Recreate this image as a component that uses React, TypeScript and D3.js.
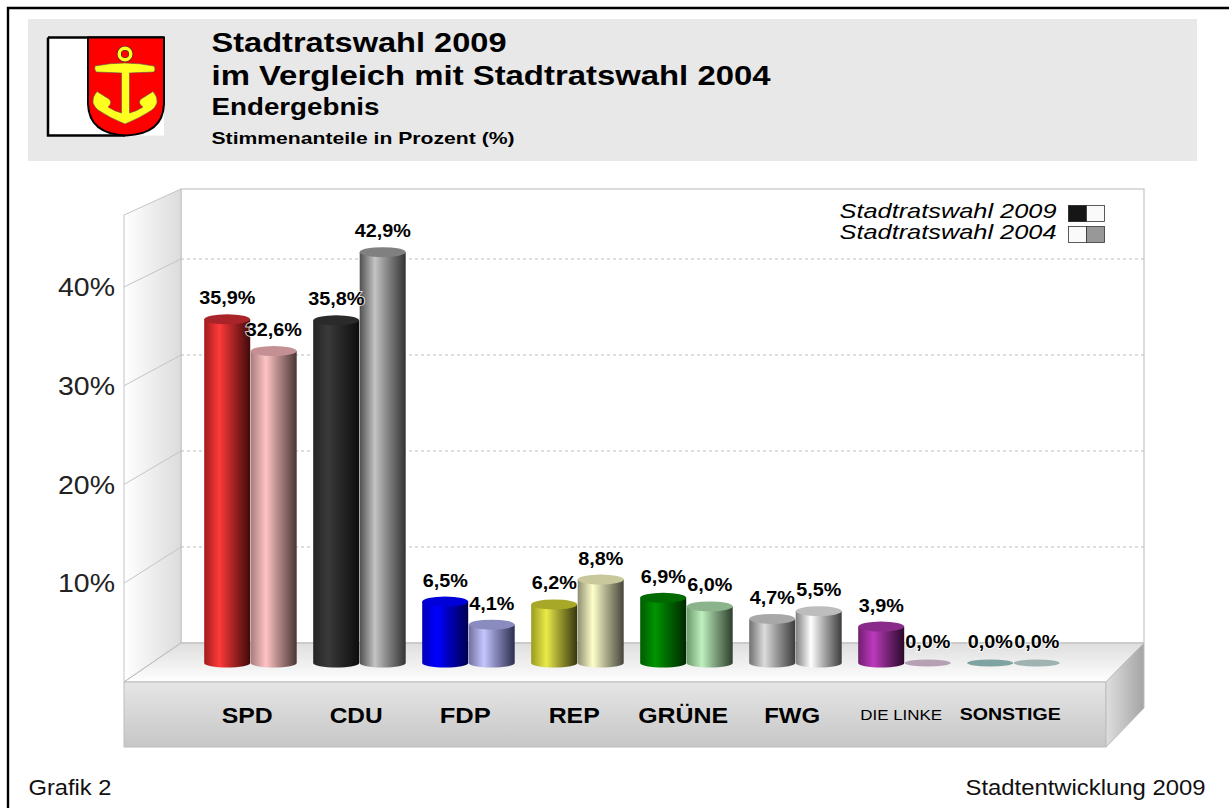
import React from "react";
import * as d3 from "d3";

const parties = ["SPD", "CDU", "FDP", "REP", "GRÜNE", "FWG", "DIE LINKE", "SONSTIGE"];
const votes2009 = [35.9, 35.8, 6.5, 6.2, 6.9, 4.7, 3.9, 0.0];
const votes2004 = [32.6, 42.9, 4.1, 8.8, 6.0, 5.5, 0.0, 0.0];
const yTicks = [10, 20, 30, 40];
const labelWidths = [51, 53, 51, 51, 90, 56, 82, 101];
const labelSizes = [22, 22, 22, 22, 22, 22, 15, 16.5];
const labelWeights = [700, 700, 700, 700, 700, 700, 400, 700];
// [edge, highlight, shadow, cap]
const colors2009 = [
  ["#a01c1c", "#ff3a3a", "#3f0a0a", "#a82428"],
  ["#242424", "#3a3a3a", "#0d0d0d", "#2a2a2a"],
  ["#0000b8", "#0000ff", "#000050", "#0000d8"],
  ["#9a9a20", "#eaea4a", "#36360f", "#a8a828"],
  ["#005c00", "#009400", "#002800", "#006a00"],
  ["#707070", "#dcdcdc", "#3c3c3c", "#a8a8a8"],
  ["#701f70", "#bc3abc", "#2a0a2a", "#8a2a8a"],
  ["#7fa3a0", "#7fa3a0", "#7fa3a0", "#7fa3a0"],
];
const colors2004 = [
  ["#a87c7c", "#ffc4c4", "#4a3535", "#c49094"],
  ["#505050", "#c4c4c4", "#333333", "#808080"],
  ["#6f70a0", "#c4c6ff", "#2d2d50", "#8a8cc0"],
  ["#8f8f70", "#ffffcc", "#45453a", "#c8c89c"],
  ["#6a9a6a", "#bff0bf", "#2d402d", "#8cb48c"],
  ["#808080", "#ffffff", "#3c3c3c", "#bdbdbd"],
  ["#b8a0b4", "#b8a0b4", "#b8a0b4", "#b8a0b4"],
  ["#9fb3b0", "#9fb3b0", "#9fb3b0", "#9fb3b0"],
];

const W = 1229;
const H = 808;
const font = "'Liberation Sans', Arial, sans-serif";
const backL = 181, backR = 1144, backT = 189, backB = 643;
const frontL = 124, frontR = 1106, frontT = 682, frontB = 747;
const baseY = 664;
const ry = 4.5;
const barW = 46;

const y = d3.scaleLinear().domain([0, 40]).range([backB, 259]);
const x0 = d3.scaleBand<string>().domain(parties).range([195, 195 + 109 * 8]).paddingInner(0);
const barX = (i: number, s: number) => (x0(parties[i]) as number) + 9.2 + s * 46.5;
const wallDrop = d3.scaleLinear().domain([backT, backB]).range([26, 39]);
const fmt = (v: number) => v.toFixed(1).replace(".", ",") + "%";

function Cylinder({ x, v, gid, cols }: { x: number; v: number; gid: string; cols: string[] }) {
  const h = 643 - y(v);
  const top = baseY - h;
  if (v === 0) {
    return <ellipse cx={x + barW / 2} cy={baseY - 1} rx={barW / 2} ry={3.5} fill={cols[3]} />;
  }
  const rx = barW / 2;
  const d = `M${x},${top}V${baseY - 1}A${rx},${ry} 0 0 0 ${x + barW},${baseY - 1}V${top}Z`;
  return (
    <g>
      <path d={d} fill={`url(#${gid})`} />
      <ellipse cx={x + rx} cy={top} rx={rx} ry={ry + 0.5} fill={cols[3]} />
    </g>
  );
}

function Grad({ id, c }: { id: string; c: string[] }) {
  return (
    <linearGradient id={id} x1="0" x2="1" y1="0" y2="0">
      <stop offset="0" stopColor={c[0]} />
      <stop offset="0.33" stopColor={c[1]} />
      <stop offset="0.55" stopColor={d3.interpolateRgb(c[1], c[2])(0.35)} />
      <stop offset="1" stopColor={c[2]} />
    </linearGradient>
  );
}

function ValueLabel({ v, center }: { v: number; center: number }) {
  const h = 643 - y(v);
  const top = v === 0 ? baseY - 1 : baseY - h;
  return (
    <text
      transform={`translate(${center},${top - 15}) scale(1.1,1)`}
      textAnchor="middle"
      fontFamily={font}
      fontWeight={700}
      fontSize={18}
      fill="#000"
      stroke="#fff"
      strokeWidth={2}
      strokeOpacity={0.75}
      paintOrder="stroke"
    >
      {fmt(v)}
    </text>
  );
}

function Emblem() {
  return (
    <g>
      <rect x={48} y={37.5} width={116} height={98} fill="#fff" />
      <path d="M48,37.5H164M48,37.5V135.5H125" fill="none" stroke="#000" strokeWidth={2.5} />
      <path d="M88,37.5H164V104Q163,134 126,135.5Q89,134 88,104Z" fill="#ff0000" stroke="#000" strokeWidth={2} />
      <circle cx={125} cy={54} r={5.8} fill="none" stroke="#333" strokeWidth={4.6} />
      <circle cx={125} cy={54} r={5.8} fill="none" stroke="#ffff20" strokeWidth={3.4} />
      <path
        d="M95,66Q125,60 154,66Q156,69 154,72Q140,72.5 129.5,73V113Q137,111 143,107Q137,103 141,99Q146,96 153,91.5Q158,97 157,103Q155,108 152,110Q140,118 125,124Q110,118 98,110Q95,108 93,103Q92,97 97,91.5Q104,96 109,99Q113,103 108,107Q114,111 121.5,113V73Q110,72.5 96,72Q94,69 95,66Z"
        fill="#ffff20"
        stroke="#555"
        strokeWidth={0.6}
      />
    </g>
  );
}

export default function App() {
  const lines = [
    { t: "Stadtratswahl 2009", by: 52, fs: 27, w: 295 },
    { t: "im Vergleich mit Stadtratswahl 2004", by: 85, fs: 27, w: 559 },
    { t: "Endergebnis", by: 115, fs: 23, w: 168 },
    { t: "Stimmenanteile in Prozent (%)", by: 144, fs: 17, w: 303 },
  ];
  const floorPts = `${backL},${backB} ${backR},${backB} ${frontR},${frontT} ${frontL},${frontT}`;
  return (
    <svg width={W} height={H} viewBox={`0 0 ${W} ${H}`} style={{ position: "absolute", left: 0, top: 0, background: "#fff" }}>
      <defs>
        <linearGradient id="wall" x1="0" x2="1" y1="0" y2="0">
          <stop offset="0" stopColor="#ffffff" />
          <stop offset="1" stopColor="#dcdcdc" />
        </linearGradient>
        <linearGradient id="floor" x1="0" x2="0" y1="0" y2="1">
          <stop offset="0" stopColor="#dedede" />
          <stop offset="1" stopColor="#ffffff" />
        </linearGradient>
        <linearGradient id="front" x1="0" x2="0" y1="0" y2="1">
          <stop offset="0" stopColor="#e6e6e6" />
          <stop offset="1" stopColor="#c6c6c6" />
        </linearGradient>
        <linearGradient id="side" x1="0" x2="1" y1="0" y2="0">
          <stop offset="0" stopColor="#dedede" />
          <stop offset="1" stopColor="#a4a4a4" />
        </linearGradient>
        {parties.map((_, i) => <Grad key={i} id={`a${i}`} c={colors2009[i]} />)}
        {parties.map((_, i) => <Grad key={i} id={`b${i}`} c={colors2004[i]} />)}
      </defs>

      <path d={`M8,${H}V8H${W}`} fill="none" stroke="#000" strokeWidth={2.4} />

      <rect x={28} y={19} width={1169} height={142} fill="#e8e8e8" />
      <Emblem />
      {lines.map((l) => (
        <text key={l.t} x={211.5} y={l.by} fontFamily={font} fontWeight={700} fontSize={l.fs} textLength={l.w} lengthAdjust="spacingAndGlyphs" fill="#000">
          {l.t}
        </text>
      ))}

      {/* 3D box */}
      <rect x={backL} y={backT} width={backR - backL} height={backB - backT} fill="#fff" stroke="#c4c4c4" strokeWidth={1.2} />
      <polygon points={`${frontL},${backT + 26} ${backL},${backT} ${backL},${backB} ${frontL},${frontT}`} fill="url(#wall)" stroke="#c4c4c4" strokeWidth={1} />
      {yTicks.map((t) => {
        const py = y(t);
        return (
          <g key={t}>
            <line x1={backL} x2={backR} y1={py} y2={py} stroke="#bdbdbd" strokeWidth={1} strokeDasharray="3 3" />
            <line x1={backL} x2={frontL} y1={py} y2={py + wallDrop(py)} stroke="#c4c4c4" strokeWidth={1} />
            <text x={115} y={py + wallDrop(py) + 9} textAnchor="end" fontFamily={font} fontSize={25} textLength={57} lengthAdjust="spacingAndGlyphs" fill="#222">
              {t}%
            </text>
          </g>
        );
      })}
      <polygon points={floorPts} fill="url(#floor)" stroke="#b8b8b8" strokeWidth={1} />
      <rect x={frontL} y={frontT} width={frontR - frontL} height={frontB - frontT} fill="url(#front)" stroke="#bdbdbd" strokeWidth={1} />
      <polygon points={`${frontR},${frontT} ${backR},${backB} ${backR},708 ${frontR},${frontB}`} fill="url(#side)" stroke="#bdbdbd" strokeWidth={1} />

      {parties.map((p, i) => (
        <g key={p}>
          <Cylinder x={barX(i, 0)} v={votes2009[i]} gid={`a${i}`} cols={colors2009[i]} />
          <Cylinder x={barX(i, 1)} v={votes2004[i]} gid={`b${i}`} cols={colors2004[i]} />
        </g>
      ))}
      {parties.map((p, i) => (
        <g key={p}>
          <ValueLabel v={votes2009[i]} center={barX(i, 0) + barW / 2} />
          <ValueLabel v={votes2004[i]} center={barX(i, 1) + barW / 2} />
        </g>
      ))}
      {parties.map((p, i) => (
        <text
          key={p}
          x={barX(i, 0) + 43}
          y={i >= 6 ? 719.5 : 722.5}
          textAnchor="middle"
          fontFamily={font}
          fontWeight={labelWeights[i]}
          fontSize={labelSizes[i]}
          textLength={labelWidths[i]}
          lengthAdjust="spacingAndGlyphs"
          fill="#000"
        >
          {p}
        </text>
      ))}

      {/* legend */}
      <text x={839.5} y={218} fontFamily={font} fontStyle="italic" fontSize={21} textLength={217} lengthAdjust="spacingAndGlyphs" fill="#000">Stadtratswahl 2009</text>
      <text x={839.5} y={239} fontFamily={font} fontStyle="italic" fontSize={21} textLength={217} lengthAdjust="spacingAndGlyphs" fill="#000">Stadtratswahl 2004</text>
      <rect x={1068.5} y={205.5} width={18} height={16} fill="#161616" stroke="#333" />
      <rect x={1086.5} y={205.5} width={18} height={16} fill="#fafafa" stroke="#333" strokeWidth={0.8} />
      <rect x={1068.5} y={226.5} width={18} height={16} fill="#fafafa" stroke="#333" strokeWidth={0.8} />
      <rect x={1086.5} y={226.5} width={18} height={16} fill="#989898" stroke="#333" strokeWidth={0.8} />

      <text x={28.5} y={795} fontFamily={font} fontSize={22} textLength={83} lengthAdjust="spacingAndGlyphs" fill="#111">Grafik 2</text>
      <text x={965.5} y={795} fontFamily={font} fontSize={22} textLength={240} lengthAdjust="spacingAndGlyphs" fill="#111">Stadtentwicklung 2009</text>
    </svg>
  );
}
